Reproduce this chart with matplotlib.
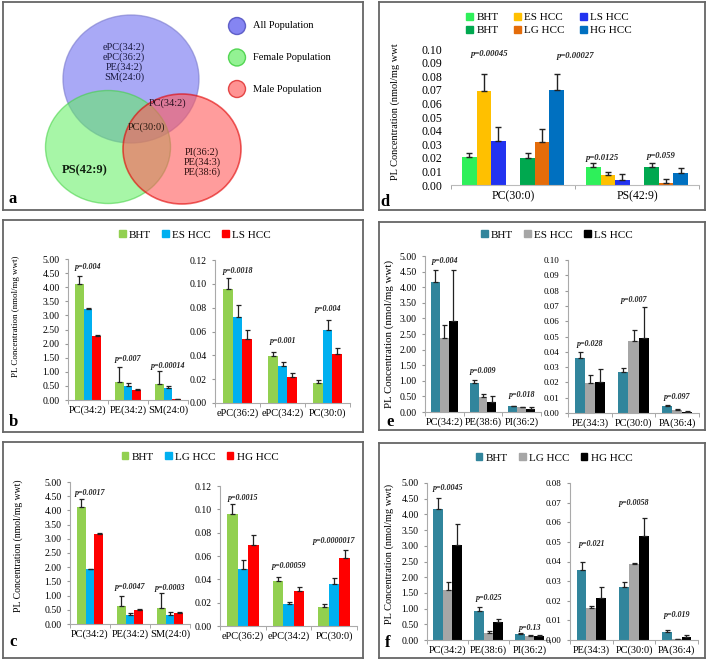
import numpy as np
import matplotlib
matplotlib.use("Agg")
import matplotlib.pyplot as plt
from matplotlib.patches import Ellipse, Patch

plt.rcParams['font.family'] = ['Liberation Serif', 'DejaVu Serif']

W, H = 708, 661

# ---- data ----
# panel a (venn)
venn_sets = ["All Population", "Female Population", "Male Population"]
venn_all_only = "ePC(34:2)\nePC(36:2)\nPE(34:2)\nSM(24:0)"
venn_all_male = "PC(34:2)"
venn_center = "PC(30:0)"
venn_male_only = "PI(36:2)\nPE(34:3)\nPE(38:6)"
venn_female_only = "PS(42:9)"

# panel b
b_series = ["BHT", "ES HCC", "LS HCC"]
b_left_cats = ["PC(34:2)", "PE(34:2)", "SM(24:0)"]
b_left_vals = [[4.10, 0.65, 0.55], [3.22, 0.50, 0.43], [2.27, 0.35, 0.03]]
b_left_errs = [[0.30, 0.53, 0.48], [0.05, 0.12, 0.07], [0.05, 0.05, 0.0]]
b_left_p = ["p=0.004", "p=0.007", "p=0.00014"]
b_left_py = [4.72, 1.45, 1.20]
b_right_cats = ["ePC(36:2)", "ePC(34:2)", "PC(30:0)"]
b_right_vals = [[0.096, 0.0395, 0.017], [0.072, 0.031, 0.061], [0.0536, 0.0215, 0.0408]]
b_right_errs = [[0.0087, 0.0032, 0.002], [0.0103, 0.0033, 0.009], [0.0078, 0.0036, 0.0056]]
b_right_p = ["p=0.0018", "p=0.001", "p=0.004"]
b_right_py = [0.111, 0.052, 0.079]

# panel c
c_series = ["BHT", "LG HCC", "HG HCC"]
c_left_cats = ["PC(34:2)", "PE(34:2)", "SM(24:0)"]
c_left_vals = [[4.13, 0.65, 0.58], [1.93, 0.30, 0.30], [3.17, 0.50, 0.38]]
c_left_errs = [[0.27, 0.32, 0.50], [0.02, 0.08, 0.12], [0.05, 0.04, 0.05]]
c_left_p = ["p=0.0017", "p=0.0047", "p=0.0003"]
c_left_py = [4.60, 1.30, 1.28]
c_right_cats = ["ePC(36:2)", "ePC(34:2)", "PC(30:0)"]
c_right_vals = [[0.096, 0.0389, 0.0166], [0.0489, 0.0186, 0.036], [0.0691, 0.0297, 0.058]]
c_right_errs = [[0.0083, 0.0034, 0.0023], [0.0077, 0.0023, 0.0049], [0.0089, 0.0037, 0.0071]]
c_right_p = ["p=0.0015", "p=0.00059", "p=0.0000017"]
c_right_py = [0.110, 0.051, 0.073]

# panel d
d_cats = ["PC(30:0)", "PS(42:9)"]
d_series = ["BHT", "ES HCC", "LS HCC", "BHT", "LG HCC", "HG HCC"]
d_vals = [[0.0204, 0.0133], [0.0688, 0.0071], [0.0327, 0.0039],
          [0.0201, 0.0133], [0.0317, 0.0017], [0.0695, 0.0091]]
d_errs = [[0.0034, 0.0032], [0.0130, 0.0025], [0.0103, 0.0042],
          [0.0037, 0.0032], [0.0096, 0.0025], [0.0123, 0.0032]]
d_p = ["p=0.00045", "p=0.00027", "p=0.0125", "p=0.059"]
d_px = [-0.19, 0.50, 0.72, 1.19]
d_py = [0.096, 0.095, 0.0197, 0.0215]

# panel e
e_series = ["BHT", "ES HCC", "LS HCC"]
e_left_cats = ["PC(34:2)", "PE(38:6)", "PI(36:2)"]
e_left_vals = [[4.18, 0.93, 0.18], [2.38, 0.47, 0.15], [2.92, 0.31, 0.10]]
e_left_errs = [[0.37, 0.10, 0.02], [0.42, 0.10, 0.0], [1.63, 0.19, 0.07]]
e_left_p = ["p=0.004", "p=0.009", "p=0.018"]
e_left_py = [4.85, 1.30, 0.55]
e_right_cats = ["PE(34:3)", "PC(30:0)", "PA(36:4)"]
e_right_vals = [[0.036, 0.0269, 0.0046], [0.0196, 0.0472, 0.0017], [0.020, 0.0493, 0.0007]]
e_right_errs = [[0.004, 0.0026, 0.0004], [0.0051, 0.0068, 0.0011], [0.0086, 0.0197, 0.0006]]
e_right_p = ["p=0.028", "p=0.007", "p=0.097"]
e_right_py = [0.0454, 0.0738, 0.0105]

# panel f
f_series = ["BHT", "LG HCC", "HG HCC"]
f_left_cats = ["PC(34:2)", "PE(38:6)", "PI(36:2)"]
f_left_vals = [[4.17, 0.93, 0.20], [1.58, 0.22, 0.13], [3.03, 0.57, 0.13]]
f_left_errs = [[0.35, 0.12, 0.02], [0.27, 0.08, 0.02], [0.67, 0.11, 0.03]]
f_left_p = ["p=0.0045", "p=0.025", "p=0.13"]
f_left_py = [4.85, 1.35, 0.38]
f_right_cats = ["PE(34:3)", "PC(30:0)", "PA(36:4)"]
f_right_vals = [[0.0357, 0.0269, 0.0043], [0.0162, 0.0388, 0.0005], [0.0216, 0.0531, 0.0017]]
f_right_errs = [[0.0043, 0.0025, 0.0006], [0.0013, 0.0005, 0.0001], [0.0056, 0.009, 0.0009]]
f_right_p = ["p=0.021", "p=0.0058", "p=0.019"]
f_right_py = [0.049, 0.0698, 0.0128]

# colours
col_bc = ["#92D050", "#00B0F0", "#FF0000"]
col_d = ["#2EF05A", "#FFC000", "#2233F0", "#00A84F", "#E46C0A", "#0070C0"]
col_ef = ["#31859C", "#A6A6A6", "#000000"]

fig = plt.figure(figsize=(W / 100, H / 100), dpi=100)


def px_axes(x0, y0, x1, y1):
    return fig.add_axes([x0 / W, 1 - y1 / H, (x1 - x0) / W, (y1 - y0) / H])


def frame(x0, y0, x1, y1, label, lx, ly):
    ax = px_axes(x0, y0, x1, y1)
    ax.set_xticks([])
    ax.set_yticks([])
    for s in ax.spines.values():
        s.set_color("#666666")
        s.set_linewidth(1.3)
    ax.set_xlim(x0, x1)
    ax.set_ylim(y1, y0)
    ax.text(lx, ly, label, fontsize=12, fontweight="bold", ha="center", va="center")
    return ax


def bar_axes(rect, cats, vals, errs, colors, ymax, ystep, ptxt, py,
             width=0.22, tick_fs=7, cat_fs=7.5):
    ax = px_axes(*rect)
    ax.patch.set_alpha(0)
    x = np.arange(len(cats))
    n = len(vals)
    for i in range(n):
        pos = x + (i - (n - 1) / 2) * width
        e = np.array(errs[i])
        ax.bar(pos, vals[i], width, color=colors[i],
               yerr=[np.zeros_like(e), e],
               error_kw=dict(ecolor="#222222", elinewidth=0.9, capsize=1.8, capthick=0.9))
    for xi, t, yy in zip(x, ptxt, py):
        ax.text(xi, yy, t, fontsize=5.8, fontstyle="italic", fontweight="bold",
                ha="center", va="center", color="#222222")
    ax.set_xlim(-0.5, len(cats) - 0.5)
    ax.set_ylim(0, ymax)
    ax.set_yticks(np.arange(0, ymax + ystep / 2, ystep))
    ax.yaxis.set_major_formatter(matplotlib.ticker.FormatStrFormatter("%.2f"))
    ax.set_xticks(x)
    ax.set_xticklabels(cats, fontsize=cat_fs)
    ax.set_xticks(np.arange(len(cats) + 1) - 0.5, minor=True)
    ax.tick_params(axis="x", which="major", length=0, pad=4)
    ax.tick_params(axis="x", which="minor", length=3, color="#999999")
    ax.tick_params(axis="y", labelsize=tick_fs, length=2.5, color="#999999")
    for s in ["top", "right"]:
        ax.spines[s].set_visible(False)
    for s in ["left", "bottom"]:
        ax.spines[s].set_color("#aaaaaa")
        ax.spines[s].set_linewidth(0.8)
    return ax


def legend_at(cx, cy, labels, colors, ncol, colspace=1.0):
    handles = [Patch(color=c, label=l) for l, c in zip(labels, colors)]
    fig.legend(handles=handles, loc="center", bbox_to_anchor=(cx / W, 1 - cy / H),
               ncol=ncol, frameon=False, fontsize=8, handlelength=0.6, handleheight=0.6,
               handletextpad=0.3, columnspacing=colspace, labelspacing=0.35)


# ---- panel a: venn ----
ax = frame(3, 2, 363, 210, "a", 13, 199)
ax.add_patch(Ellipse((131, 79), 136, 128, facecolor="#7070F0", alpha=0.6,
                     edgecolor="#7a7acc", lw=1))
ax.add_patch(Ellipse((108, 147), 125, 113, facecolor="#60F060", alpha=0.55,
                     edgecolor="#40D040", lw=1))
ax.add_patch(Ellipse((182, 149), 118, 110, facecolor="#FF5A5A", alpha=0.6,
                     edgecolor="#E00000", lw=1.2))
ax.text(124, 62, venn_all_only, fontsize=7.5, ha="center", va="center", linespacing=1.05,
        color="#1a1a40")
ax.text(168, 103, venn_all_male, fontsize=7.5, ha="center", va="center", color="#2a1020")
ax.text(147, 127, venn_center, fontsize=7.5, ha="center", va="center", color="#2a1a10")
ax.text(202, 162, venn_male_only, fontsize=7.5, ha="center", va="center", linespacing=1.05,
        color="#301010")
ax.text(85, 170, venn_female_only, fontsize=9, fontweight="bold", ha="center", va="center",
        color="#102010")
leg_cols = [("#7070F0", "#5050C0"), ("#80F080", "#40D040"), ("#FF8080", "#E03030")]
for i, (name, (fc, ec)) in enumerate(zip(venn_sets, leg_cols)):
    yy = 26 + i * 31.5
    ax.add_patch(Ellipse((237, yy), 17, 17, facecolor=fc, edgecolor=ec, lw=1, alpha=0.85))
    ax.text(253, yy, name, fontsize=7.5, ha="left", va="center")

# ---- panel b ----
frame(3, 220, 363, 432, "b", 13, 422)
bar_axes((68, 259, 188, 400), b_left_cats, b_left_vals, b_left_errs, col_bc,
         5, 0.5, b_left_p, b_left_py, width=0.22)
bar_axes((215, 260, 350, 403), b_right_cats, b_right_vals, b_right_errs, col_bc,
         0.12, 0.02, b_right_p, b_right_py, width=0.22)
fig.text(16 / W, 1 - 316 / H, "PL Concentration (nmol/mg wwt)", rotation=90,
         fontsize=6.5, ha="center", va="center")
legend_at(195, 235, b_series, col_bc, 3)

# ---- panel c ----
frame(3, 442, 363, 658, "c", 13, 642)
bar_axes((70, 482, 190, 624), c_left_cats, c_left_vals, c_left_errs, col_bc,
         5, 0.5, c_left_p, c_left_py, width=0.22)
bar_axes((220, 486, 357, 626), c_right_cats, c_right_vals, c_right_errs, col_bc,
         0.12, 0.02, c_right_p, c_right_py, width=0.23)
fig.text(18 / W, 1 - 546 / H, "PL Concentration (nmol/mg wwt)", rotation=90,
         fontsize=7, ha="center", va="center")
legend_at(200, 457, c_series, col_bc, 3)

# ---- panel d ----
frame(379, 2, 705, 210, "d", 385, 202)
ax = px_axes(451, 49, 699, 185)
ax.patch.set_alpha(0)
w = 0.117
slots = [-3, -2, -1, 1, 2, 3]
x = np.arange(len(d_cats))
for i in range(len(d_series)):
    e = np.array(d_errs[i])
    ax.bar(x + slots[i] * w, d_vals[i], w, color=col_d[i],
           yerr=[np.zeros_like(e), e],
           error_kw=dict(ecolor="#222222", elinewidth=1.0, capsize=2, capthick=1.0))
for t, xx, yy in zip(d_p, d_px, d_py):
    ax.text(xx, yy, t, fontsize=6.2, fontstyle="italic", fontweight="bold",
            ha="center", va="center", color="#222222")
ax.set_xlim(-0.5, 1.5)
ax.set_ylim(0, 0.10)
ax.set_yticks(np.arange(0, 0.105, 0.01))
ax.yaxis.set_major_formatter(matplotlib.ticker.FormatStrFormatter("%.2f"))
ax.set_xticks(x)
ax.set_xticklabels(d_cats, fontsize=8.5)
ax.set_xticks([-0.5, 0.5, 1.5], minor=True)
ax.tick_params(axis="x", which="major", length=0, pad=4)
ax.tick_params(axis="x", which="minor", length=3, color="#999999")
ax.tick_params(axis="y", labelsize=8.5, length=0, pad=6)
for s in ["top", "right", "left"]:
    ax.spines[s].set_visible(False)
ax.spines["bottom"].set_color("#bbbbbb")
fig.text(395 / W, 1 - 112 / H, "PL Concentration (nmol/mg wwt", rotation=90,
         fontsize=7.5, ha="center", va="center")
# legend filled column-wise, so order handles to read row-wise like the original
d_order = [0, 3, 1, 4, 2, 5]
legend_at(549, 24, [d_series[k] for k in d_order], [col_d[k] for k in d_order], 3,
          colspace=1.4)

# ---- panel e ----
frame(379, 222, 705, 430, "e", 390, 422)
bar_axes((425, 256, 541, 412), e_left_cats, e_left_vals, e_left_errs, col_ef,
         5, 0.5, e_left_p, e_left_py, width=0.23, tick_fs=7, cat_fs=7.5)
bar_axes((568, 260, 699, 413), e_right_cats, e_right_vals, e_right_errs, col_ef,
         0.10, 0.01, e_right_p, e_right_py, width=0.23, tick_fs=6.5, cat_fs=7.5)
fig.text(389 / W, 1 - 334 / H, "PL Concentration (nmol/mg wwt)", rotation=90,
         fontsize=7.8, ha="center", va="center")
legend_at(557, 235, e_series, col_ef, 3)

# ---- panel f ----
frame(379, 443, 705, 658, "f", 388, 643)
bar_axes((427, 483, 550, 640), f_left_cats, f_left_vals, f_left_errs, col_ef,
         5, 0.5, f_left_p, f_left_py, width=0.23, tick_fs=7, cat_fs=7.5)
bar_axes((570, 483, 698, 640), f_right_cats, f_right_vals, f_right_errs, col_ef,
         0.08, 0.01, f_right_p, f_right_py, width=0.23, tick_fs=6.5, cat_fs=7.5)
fig.text(389 / W, 1 - 554 / H, "PL Concentration (nmol/mg wwt)", rotation=90,
         fontsize=7.5, ha="center", va="center")
legend_at(554, 458, f_series, col_ef, 3)

fig.savefig("out.png", dpi=100)
